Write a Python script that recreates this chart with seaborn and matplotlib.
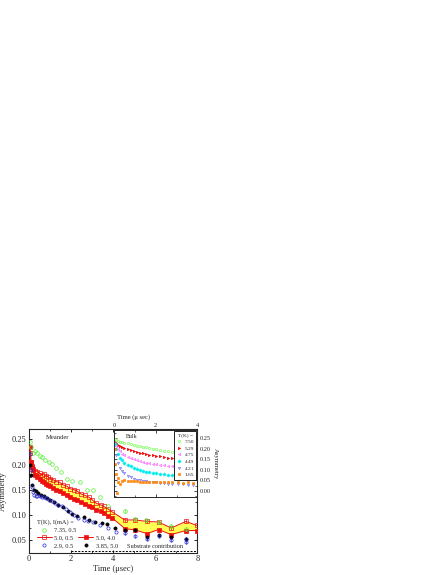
import numpy as np
import seaborn as sns
import matplotlib
matplotlib.use('Agg')
import matplotlib.pyplot as plt
from matplotlib.lines import Line2D
from matplotlib.ticker import MultipleLocator

# ---- main panel (meander), T(K), I(mA) ----
t_green = [0.03, 0.1, 0.2, 0.3, 0.4, 0.5, 0.6, 0.75, 0.95, 1.1, 1.3, 1.5, 1.8, 2.05, 2.4,
           2.75, 3.05, 3.35, 3.75, 4.55, 5.05, 5.55, 6.15, 6.75, 7.45]
v_green = [0.245, 0.234, 0.223, 0.227, 0.222, 0.216, 0.215, 0.21, 0.206, 0.201, 0.193, 0.186, 0.171,
           0.167, 0.165, 0.149, 0.149, 0.136, 0.118, 0.107, 0.092, 0.089, 0.085, 0.078, 0.072]

t_red = [0.05, 0.1, 0.15, 0.2, 0.3, 0.4, 0.5, 0.6, 0.7, 0.8, 0.9, 1.0, 1.15, 1.3, 1.45, 1.6,
         1.8, 1.95, 2.15, 2.3, 2.45, 2.65, 2.85, 3.0, 3.2, 3.4, 3.55, 3.75, 3.95, 4.55, 5.05,
         5.6, 6.15, 6.75, 7.45, 7.98]
v_red_low_i = [0.222, 0.205, 0.198, 0.192, 0.188, 0.186, 0.183, 0.18, 0.181, 0.177, 0.176, 0.172,
               0.17, 0.166, 0.165, 0.16, 0.157, 0.152, 0.15, 0.147, 0.142, 0.139, 0.135, 0.13,
               0.123, 0.12, 0.117, 0.112, 0.106, 0.09, 0.09, 0.087, 0.086, 0.074, 0.087, 0.079]
v_red_high_i = [0.235, 0.205, 0.195, 0.19, 0.18, 0.176, 0.172, 0.168, 0.165, 0.162, 0.16, 0.157,
                0.153, 0.149, 0.147, 0.143, 0.139, 0.136, 0.132, 0.129, 0.126, 0.122, 0.118, 0.115,
                0.11, 0.107, 0.103, 0.098, 0.094, 0.073, 0.07, 0.063, 0.071, 0.061, 0.069, 0.069]

t_black = [0.05, 0.1, 0.15, 0.25, 0.35, 0.45, 0.55, 0.7, 0.85, 1.0, 1.2, 1.4, 1.6, 1.85, 2.05,
           2.3, 2.6, 2.85, 3.15, 3.45, 3.7, 4.1, 4.55, 5.05, 5.6, 6.15, 6.75, 7.45]
v_black = [0.2, 0.18, 0.16, 0.15, 0.147, 0.143, 0.14, 0.137, 0.133, 0.13, 0.126, 0.12, 0.115,
           0.108, 0.102, 0.098, 0.095, 0.09, 0.086, 0.084, 0.082, 0.074, 0.07, 0.07, 0.057,
           0.06, 0.057, 0.052]

t_blue = [0.03, 0.08, 0.12, 0.18, 0.25, 0.32, 0.4, 0.5, 0.6, 0.7, 0.8, 0.95, 1.1, 1.25, 1.4,
          1.55, 1.75, 1.95, 2.15, 2.35, 2.6, 2.8, 3.05, 3.35, 3.75, 4.15, 4.55, 5.05, 5.6,
          6.15, 6.75, 7.45, 7.47]
v_blue = [0.22, 0.19, 0.155, 0.145, 0.14, 0.138, 0.138, 0.137, 0.136, 0.135, 0.133, 0.13, 0.128,
          0.124, 0.12, 0.117, 0.112, 0.106, 0.1, 0.093, 0.09, 0.088, 0.086, 0.08, 0.074, 0.066,
          0.064, 0.059, 0.053, 0.058, 0.05, 0.053, 0.047]

substrate_level = 0.029
substrate_from = 2.0

# ---- inset (bulk), T(K) ----
t_bulk = [0.05, 0.1, 0.2, 0.3, 0.4, 0.5, 0.65, 0.8, 0.95, 1.1, 1.25, 1.4, 1.55, 1.7, 1.85,
          2.0, 2.2, 2.4, 2.6, 2.8, 3.05, 3.3, 3.55, 3.8]
bulk_750 = [0.245, 0.242, 0.238, 0.235, 0.232, 0.229, 0.226, 0.222, 0.219, 0.216, 0.213, 0.21,
            0.207, 0.204, 0.201, 0.198, 0.195, 0.192, 0.19, 0.187, 0.184, 0.181, 0.178, 0.175]
bulk_529 = [0.235, 0.228, 0.22, 0.214, 0.209, 0.205, 0.2, 0.195, 0.19, 0.186, 0.182, 0.179,
            0.176, 0.173, 0.17, 0.167, 0.164, 0.161, 0.158, 0.155, 0.152, 0.149, 0.146, 0.143]
bulk_475 = [0.23, 0.215, 0.2, 0.188, 0.178, 0.17, 0.162, 0.155, 0.15, 0.145, 0.141, 0.138,
            0.135, 0.132, 0.129, 0.127, 0.124, 0.121, 0.119, 0.117, 0.114, 0.112, 0.11, 0.108]
bulk_449 = [0.225, 0.2, 0.175, 0.158, 0.145, 0.135, 0.125, 0.117, 0.11, 0.104, 0.099, 0.095,
            0.092, 0.089, 0.086, 0.084, 0.082, 0.08, 0.078, 0.076, 0.074, 0.072, 0.07, 0.068]
bulk_421 = [0.2, 0.17, 0.135, 0.11, 0.095, 0.083, 0.072, 0.064, 0.058, 0.054, 0.05, 0.047,
            0.045, 0.043, 0.041, 0.04, 0.038, 0.037, 0.035, 0.034, 0.033, 0.031, 0.03, 0.028]
t_bulk_165 = [0.03, 0.06, 0.1, 0.13, 0.17, 0.2, 0.3, 0.4, 0.5, 0.65, 0.8, 0.95, 1.1, 1.25,
              1.4, 1.55, 1.7, 1.85, 2.0, 2.2, 2.4, 2.6, 2.8, 3.05, 3.3, 3.55, 3.8]
bulk_165 = [0.2, 0.13, 0.08, -0.01, 0.04, 0.06, 0.035, 0.045, 0.05, 0.048, 0.046, 0.045, 0.047,
            0.044, 0.043, 0.044, 0.042, 0.043, 0.041, 0.042, 0.04, 0.041, 0.04, 0.041, 0.039,
            0.04, 0.039]

sns.set_style('ticks')
plt.rcParams['font.family'] = ['Liberation Serif', 'DejaVu Serif']
plt.rcParams['axes.linewidth'] = 0.8

C_GREEN = '#55ee33'
C_RED = '#ee1111'
C_BLUE = '#2a2acc'
C_YELLOW = '#ffff55'

fig = plt.figure(figsize=(4.44, 5.75), dpi=100)
ax = fig.add_axes([0.0653, 0.0388, 0.3795, 0.2146])

ax.fill_between(t_red, v_red_high_i, v_red_low_i, color=C_YELLOW, lw=0, zorder=1)

ms = 2.3
mw = 0.5
sns.lineplot(x=t_red, y=v_red_low_i, ax=ax, estimator=None, sort=False, color=C_RED, lw=0.7,
             marker='s', ms=ms, mfc='none', mec=C_RED, mew=mw, zorder=3)
sns.lineplot(x=t_red, y=v_red_high_i, ax=ax, estimator=None, sort=False, color=C_RED, lw=0.7,
             marker='s', ms=ms, mfc=C_RED, mec=C_RED, mew=mw, zorder=3)
sns.lineplot(x=t_green, y=v_green, ax=ax, estimator=None, sort=False, color=C_GREEN, ls='none',
             marker='o', ms=ms + 0.3, mfc='none', mec=C_GREEN, mew=mw, zorder=4)
sns.lineplot(x=t_black, y=v_black, ax=ax, estimator=None, sort=False, color='k', ls='none',
             marker='o', ms=ms, mfc='k', mec='k', mew=mw, zorder=4)
sns.lineplot(x=t_blue, y=v_blue, ax=ax, estimator=None, sort=False, color=C_BLUE, ls='none',
             marker='o', ms=ms, mfc='none', mec=C_BLUE, mew=mw, zorder=4)

# small error bars on the sparse late-time points
late = [i for i, t in enumerate(t_red) if t > 4.4]
for vals, col in [(v_red_low_i, C_RED), (v_red_high_i, C_RED)]:
    ax.errorbar([t_red[i] for i in late], [vals[i] for i in late], yerr=0.004, fmt='none',
                ecolor=col, elinewidth=0.5, capsize=0, zorder=3)
late_g = [i for i, t in enumerate(t_green) if t > 4.4]
ax.errorbar([t_green[i] for i in late_g], [v_green[i] for i in late_g], yerr=0.004, fmt='none',
            ecolor=C_GREEN, elinewidth=0.5, capsize=0, zorder=3)
late_b = [i for i, t in enumerate(t_blue) if t > 4.4]
ax.errorbar([t_blue[i] for i in late_b], [v_blue[i] for i in late_b], yerr=0.004, fmt='none',
            ecolor=C_BLUE, elinewidth=0.5, capsize=0, zorder=3)

ax.hlines(substrate_level, substrate_from, 8, colors='k', linestyles=(0, (2, 1.5)), lw=0.7)
ax.text(6.0, substrate_level + 0.004, 'Substrate contribution', fontsize=4.5, ha='center',
        va='bottom')
ax.text(0.1, 0.93, 'Meander', transform=ax.transAxes, fontsize=4.8, va='center')

ax.set_xlim(0, 8)
ax.set_ylim(0.025, 0.27)
ax.xaxis.set_major_locator(MultipleLocator(2))
ax.xaxis.set_minor_locator(MultipleLocator(1))
ax.yaxis.set_major_locator(MultipleLocator(0.05))
ax.yaxis.set_minor_locator(MultipleLocator(0.025))
ax.tick_params(which='both', direction='in', top=True, right=True, labelsize=6, pad=2)
ax.tick_params(which='major', length=2.5, width=0.7)
ax.tick_params(which='minor', length=1.4, width=0.6)
ax.yaxis.set_major_formatter(plt.FormatStrFormatter('%.2f'))
ax.set_xlabel('Time (μsec)', fontsize=6, labelpad=1)
ax.set_ylabel('Asymmetry', fontsize=6, labelpad=3)

handles = [
    Line2D([], [], ls='none', marker='o', ms=ms + 0.3, mfc='none', mec=C_GREEN, mew=mw),
    Line2D([], [], color=C_RED, lw=0.7, marker='s', ms=ms, mfc='none', mec=C_RED, mew=mw),
    Line2D([], [], ls='none', marker='o', ms=ms, mfc='none', mec=C_BLUE, mew=mw),
    Line2D([], [], ls='none'),
    Line2D([], [], color=C_RED, lw=0.7, marker='s', ms=ms, mfc=C_RED, mec=C_RED, mew=mw),
    Line2D([], [], ls='none', marker='o', ms=ms, mfc='k', mec='k', mew=mw),
]
labels = ['7.35, 0.5', '5.0, 0.5', '2.9, 0.5', '', '5.0, 4.0', '3.85, 5.0']
ax.legend(handles, labels, ncol=2, title='T(K), I(mA) =', alignment='left', frameon=False,
          fontsize=4.6, title_fontsize=4.6, loc='lower left', bbox_to_anchor=(0.02, 0.0),
          handlelength=2.3, handletextpad=0.4, columnspacing=0.3, labelspacing=0.35,
          borderpad=0.2)

# ---- inset ----
ins = fig.add_axes([0.2568, 0.1357, 0.1880, 0.1165])
ins.set_facecolor('white')
mi = 1.6
bulk_series = [
    (t_bulk, bulk_750, '7.50', '#77ff55', 'o', False),
    (t_bulk, bulk_529, '5.29', '#ee0000', '>', True),
    (t_bulk, bulk_475, '4.75', '#ff66ff', '<', False),
    (t_bulk, bulk_449, '4.49', '#00eeee', 'D', True),
    (t_bulk, bulk_421, '4.21', '#6f6fee', 'v', False),
    (t_bulk_165, bulk_165, '1.65', '#ff8811', 's', True),
]
ins_handles = []
for tt, vv, lab, col, mk, filled in bulk_series:
    fc = col if filled else 'none'
    sns.lineplot(x=tt, y=vv, ax=ins, estimator=None, sort=False, color=col, ls='none',
                 marker=mk, ms=mi, mfc=fc, mec=col, mew=0.5)
    ins_handles.append(Line2D([], [], ls='none', marker=mk, ms=mi, mfc=fc, mec=col, mew=0.5))

ins.legend(ins_handles, [s[2] for s in bulk_series], title='T(K) =', loc='upper right',
           fontsize=3.9, title_fontsize=3.9, frameon=True, fancybox=False, edgecolor='k',
           framealpha=1, handlelength=1.0, handletextpad=0.6, labelspacing=0.35,
           borderpad=0.4, borderaxespad=0.2).get_frame().set_linewidth(0.6)
ins.text(0.21, 0.9, 'Bulk', transform=ins.transAxes, fontsize=4.3, ha='center', va='center')

ins.set_xlim(0, 4)
ins.set_ylim(-0.029, 0.29)
ins.xaxis.set_major_locator(MultipleLocator(2))
ins.xaxis.set_minor_locator(MultipleLocator(1))
ins.yaxis.set_major_locator(MultipleLocator(0.05))
ins.yaxis.set_minor_locator(MultipleLocator(0.025))
ins.xaxis.tick_top()
ins.yaxis.tick_right()
ins.tick_params(which='both', direction='in', top=True, bottom=True, left=True, right=True,
                labeltop=True, labelbottom=False, labelright=True, labelleft=False,
                labelsize=4.6, pad=1.5)
ins.tick_params(which='major', length=2, width=0.6)
ins.tick_params(which='minor', length=1.1, width=0.5)
ins.yaxis.set_major_formatter(plt.FormatStrFormatter('%.2f'))
ins.xaxis.set_label_position('top')
ins.yaxis.set_label_position('right')
ins.set_xlabel('Time (μ sec)', fontsize=4.8, labelpad=1)
ins.xaxis.set_label_coords(0.23, 1.17)
ins.set_ylabel('Asymmetry', fontsize=4.8, rotation=270, labelpad=5)
for s in ins.spines.values():
    s.set_linewidth(0.7)

fig.savefig('out.png', dpi=100)
